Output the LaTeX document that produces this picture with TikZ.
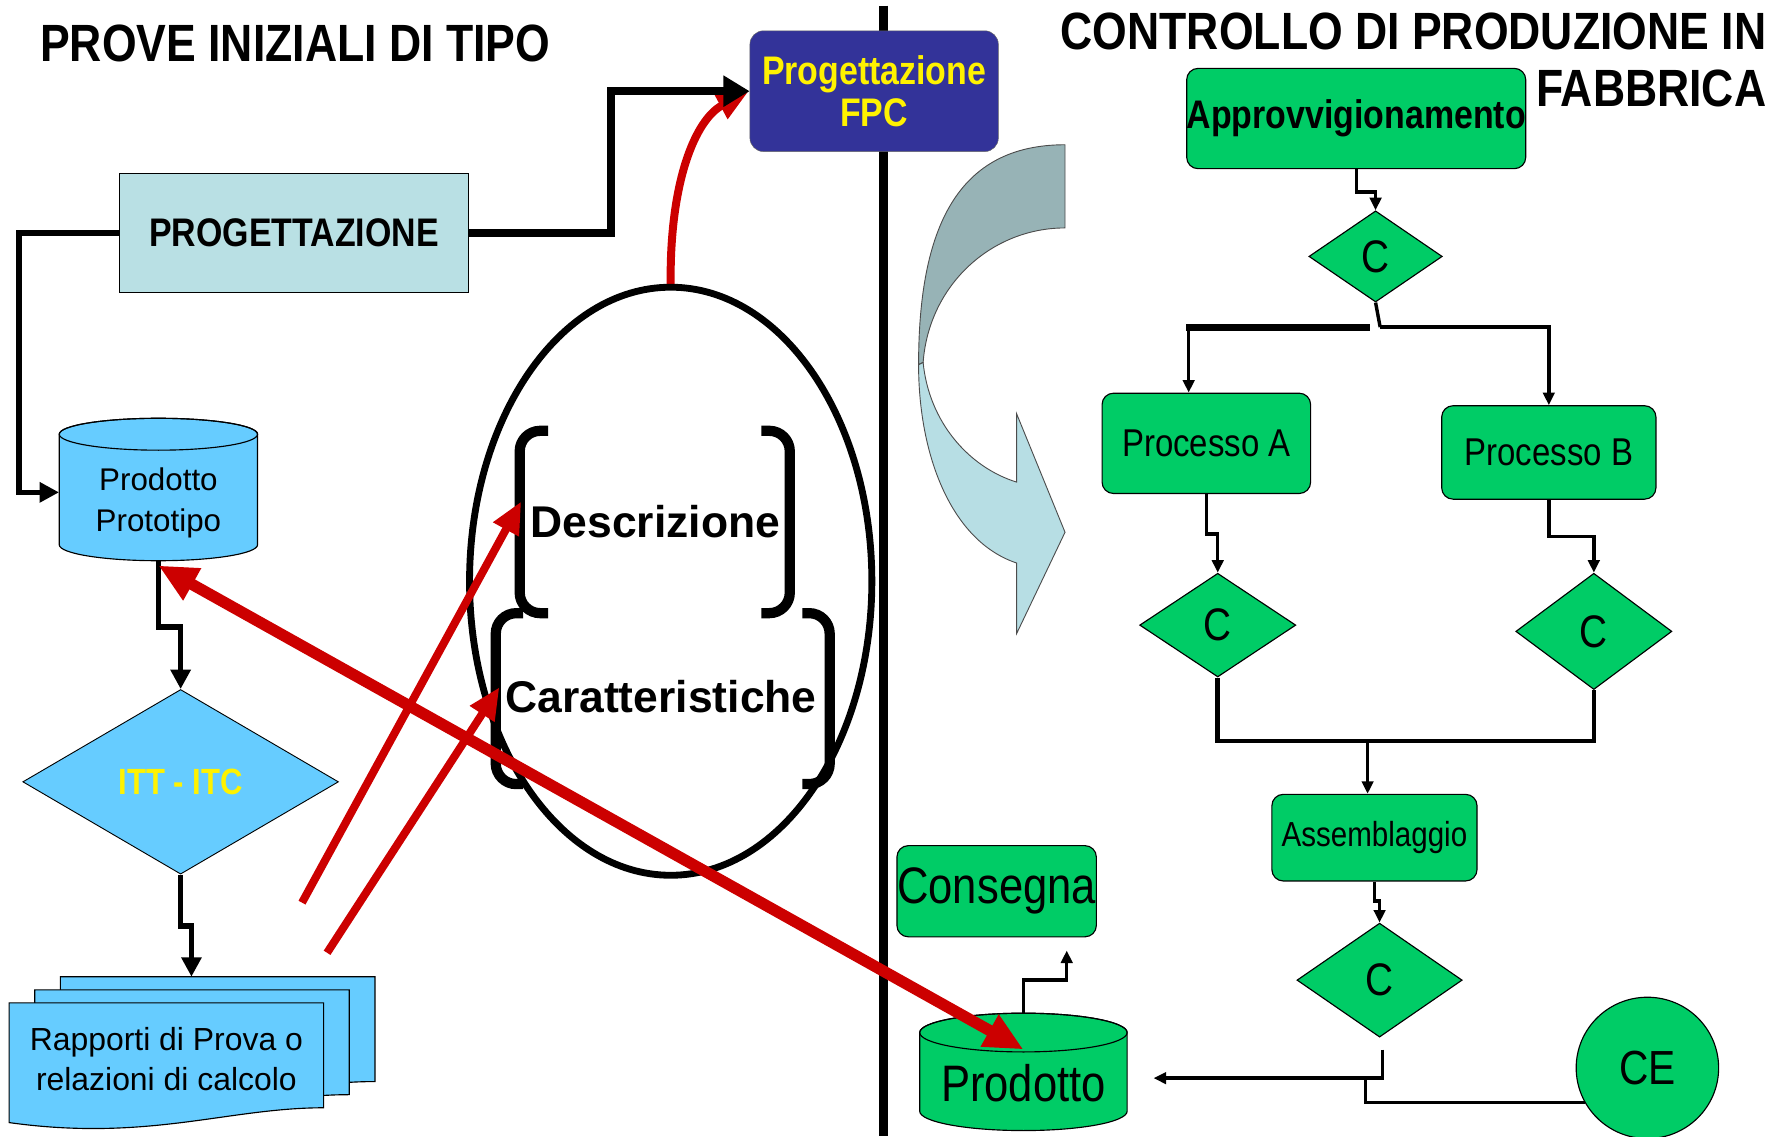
\documentclass[tikz,border=0pt]{standalone}
\usepackage{fontspec}
\setmainfont{Liberation Sans}
\newfontfamily\narrowfont[FakeStretch=0.85]{Liberation Sans}
\usetikzlibrary{arrows.meta,shapes.geometric}
\definecolor{skyfill}{RGB}{102,204,255}
\definecolor{powder}{RGB}{185,224,228}
\definecolor{fpcblue}{RGB}{51,51,153}
\definecolor{flowgreen}{RGB}{0,204,102}
\definecolor{arrowred}{RGB}{204,0,0}
\definecolor{banddark}{RGB}{151,179,182}
\definecolor{bandlight}{RGB}{183,222,228}
\tikzset{
 flowbox/.style={rectangle, rounded corners=10pt, fill=flowgreen, draw=black, line width=1pt},
 cdiam/.style={diamond, fill=flowgreen, draw=black, line width=1pt,
  font=\narrowfont\fontsize{40}{40}\selectfont},
 conn/.style={line width=3pt},
 connarrow/.style={conn, -{Triangle[length=11pt,width=10pt]}},
 leftconn/.style={line width=5pt, -{Triangle[length=17pt,width=17pt]}},
 bigconn/.style={line width=7pt, -{Triangle[length=23pt,width=26pt]}},
 redarrow/.style={draw=arrowred, line width=7pt, -{Triangle[length=28pt,width=24pt]}},
 bracket/.style={line width=9pt, rounded corners=18pt},
}
\begin{document}
\begin{tikzpicture}[x=1pt,y=-1pt,every node/.style={inner sep=0pt}]
\useasboundingbox (0,0) rectangle (1568,997);
 \draw[line width=8pt] (775,5) -- (775,997);
 \node[anchor=base west, font=\narrowfont\bfseries\fontsize{46}{50}\selectfont] (titleL) at (35,54) {PROVE INIZIALI DI TIPO};
 \node[anchor=north east, align=right, font=\narrowfont\bfseries\fontsize{46}{50}\selectfont] (titleR) at (1550,11) {CONTROLLO DI PRODUZIONE IN\\FABBRICA};

 \node[rectangle, fill=powder, draw=black, line width=1pt, minimum width=306pt, minimum height=105pt,
  font=\narrowfont\bfseries\fontsize{35}{35}\selectfont] (prog) at (258,204.5) {PROGETTAZIONE};
 \draw[redarrow] (588.5,252) .. controls (587,160) and (610,105) .. (657,80);
 \node[rectangle, rounded corners=12pt, fill=fpcblue, draw=black!60, minimum width=218pt, minimum height=106pt,
  align=center, text=yellow, font=\narrowfont\bfseries\fontsize{35}{37}\selectfont] (fpc) at (767,80) {Progettazione\\FPC};
 \draw[bigconn] (prog.east) -- ++(125,0) |- (fpc.west);

 % prodotto prototipo
 \filldraw[fill=skyfill, draw=black, line width=1pt] (52,381) -- (52,478)
  arc[start angle=180, end angle=0, x radius=87, y radius=14] -- (226,381)
  arc[start angle=0, end angle=-180, x radius=87, y radius=14] -- cycle;
 \draw[line width=1pt] (139,381) ellipse[x radius=87, y radius=14];
 \node[minimum width=174pt, minimum height=102pt, align=center, font=\fontsize{27.5}{36}\selectfont] (proto) at (139,441) {Prodotto\\Prototipo};
 \draw[leftconn] (prog.west) -- ++(-88,0) |- ([yshift=9pt]proto.west);

 \node[diamond, fill=skyfill, draw=black, line width=0.8pt, minimum width=277pt, minimum height=162pt,
  text=yellow, font=\narrowfont\bfseries\fontsize{32}{32}\selectfont] (itt) at (158.5,686) {ITT - ITC};
 \draw[leftconn] (proto.south) -- ++(0,58) -| (itt.north);

 % rapporti
 \foreach \dx/\dy in {45/-23,22.5/-11.5,0/0}
  \filldraw[fill=skyfill, draw=black, line width=1pt, shift={(\dx,\dy)}] (8,880) -- (284,880) -- (284,972)
   .. controls (200,972) and (130,1002) .. (8,985) -- cycle;
 \node[minimum width=276pt, minimum height=90pt, align=center, font=\fontsize{28}{35}\selectfont] (rapp) at (146,929) {Rapporti di Prova o\\relazioni di calcolo};
 \coordinate (docTop) at (168,857);
 \draw[leftconn] (itt.south) -- ++(0,45) -| (docTop);

 % ovale
 \node[ellipse, draw=black, line width=6pt, minimum width=353pt, minimum height=516pt] (ell) at (588.5,510) {};
 \node[font=\bfseries\fontsize{39}{39}\selectfont] (descr) at (575,458) {Descrizione};
 \node[font=\bfseries\fontsize{39}{39}\selectfont] (carat) at (580,611) {Caratteristiche};
 \draw[bracket] (481,378) -- (456,378) -- (456,538) -- (481,538);
 \draw[bracket] (668,378) -- (693,378) -- (693,538) -- (668,538);
 \draw[bracket] (459,538) -- (435,538) -- (435,688) -- (459,688);
 \draw[bracket] (704,538) -- (728,538) -- (728,688) -- (704,688);

 % freccia curva
 \filldraw[fill=banddark, draw=black!70, line width=0.8pt] (934.5,127) .. controls (840,127) and (806,200) .. (806,320)
  -- (810,318) .. controls (815,250) and (870,200) .. (934.5,200) -- cycle;
 \filldraw[fill=bandlight, draw=black!70, line width=0.8pt] (806,320) .. controls (806,400) and (835,475) .. (892,494)
  -- (892,556) -- (934.5,467) -- (892,363) -- (892,423) .. controls (850,410) and (815,370) .. (810,318) -- cycle;

 % controllo di produzione
 \node[flowbox, minimum width=296pt, minimum height=88pt, font=\narrowfont\bfseries\fontsize{35}{35}\selectfont] (appr) at (1190,104) {Approvvigionamento};
 \node[cdiam, minimum width=117pt, minimum height=80pt] (c1) at (1207,225) {C};
 \node[flowbox, minimum width=183pt, minimum height=88pt, font=\narrowfont\fontsize{34}{34}\selectfont] (procA) at (1058.5,389) {Processo A};
 \node[flowbox, minimum width=188pt, minimum height=82pt, font=\narrowfont\fontsize{34}{34}\selectfont] (procB) at (1359,397) {Processo B};
 \node[cdiam, minimum width=137pt, minimum height=91pt] (c2) at (1068.5,548.5) {C};
 \node[cdiam, minimum width=137pt, minimum height=102pt] (c3) at (1398.5,554) {C};
 \node[flowbox, minimum width=180pt, minimum height=76pt, font=\narrowfont\fontsize{30.5}{30.5}\selectfont] (asm) at (1206,735) {Assemblaggio};
 \node[cdiam, minimum width=145pt, minimum height=100pt] (c4) at (1210.5,860) {C};
 \node[flowbox, minimum width=175pt, minimum height=80pt, font=\narrowfont\fontsize{45}{45}\selectfont] (cons) at (874.5,782) {Consegna};
 \node[ellipse, fill=flowgreen, draw=black, line width=1pt, minimum width=125pt, minimum height=124pt,
  font=\narrowfont\fontsize{42}{42}\selectfont] (ce) at (1445.5,937) {CE};
 \filldraw[fill=flowgreen, draw=black, line width=1pt] (807,906) -- (807,975)
  arc[start angle=180, end angle=0, x radius=91, y radius=17] -- (989,906)
  arc[start angle=0, end angle=-180, x radius=91, y radius=17] -- cycle;
 \draw[line width=1pt] (898,906) ellipse[x radius=91, y radius=17];
 \node[minimum width=182pt, minimum height=84pt, font=\narrowfont\fontsize{45}{45}\selectfont] (prod) at (898,950) {Prodotto};

 \coordinate (split) at (1211,287);
 \coordinate (join) at (1200,650);
 \coordinate (c4out) at (1213,921);
 \coordinate (merge) at (1198,946);
 \coordinate (consTip) at (936,834);
 \draw[connarrow] (appr.south) -- ++(0,20) -| (c1.north);
 \draw[conn] (c1.south) -- (split);
 \draw[line width=6pt] (split) ++(-9,0) -- ([xshift=-17.5pt]procA.north |- split);
 \draw[connarrow] ([xshift=-15.5pt]procA.north |- split) -- ([xshift=-15.5pt]procA.north);
 \draw[connarrow] (split) -| (procB.north);
 \draw[connarrow] (procA.south) -- ++(0,35) -| (c2.north);
 \draw[connarrow] (procB.south) -- ++(0,32) -| (c3.north);
 \draw[conn, line width=4pt] (c2.south) -- (c2.south |- join) -- (c3.south |- join) -- (c3.south);
 \draw[connarrow] (join) -- (join |- asm.north);
 \draw[connarrow] (asm.south) -- ++(0,17) -| (c4.north);
 \draw[connarrow] (c4out) |- ([xshift=23pt,yshift=4pt]prod.east);
 \draw[conn] (ce.209) -| (merge);
 \draw[connarrow] ([yshift=19pt]prod.north) -- ++(0,-29) -| (consTip);

 % frecce rosse
 \coordinate (rA) at (265,792);
 \coordinate (rB) at (287,836);
 \draw[redarrow] (rA) -- ([xshift=-8pt,yshift=18pt]descr.west);
 \draw[redarrow] (rB) -- ([xshift=-5pt,yshift=8pt]carat.west);
 \draw[redarrow, line width=10pt, {Triangle[length=34pt,width=30pt]}-{Triangle[length=34pt,width=30pt]}]
  ([yshift=-4pt]proto.south) -- ([yshift=-13pt]prod.north);
\end{tikzpicture}
\end{document}
